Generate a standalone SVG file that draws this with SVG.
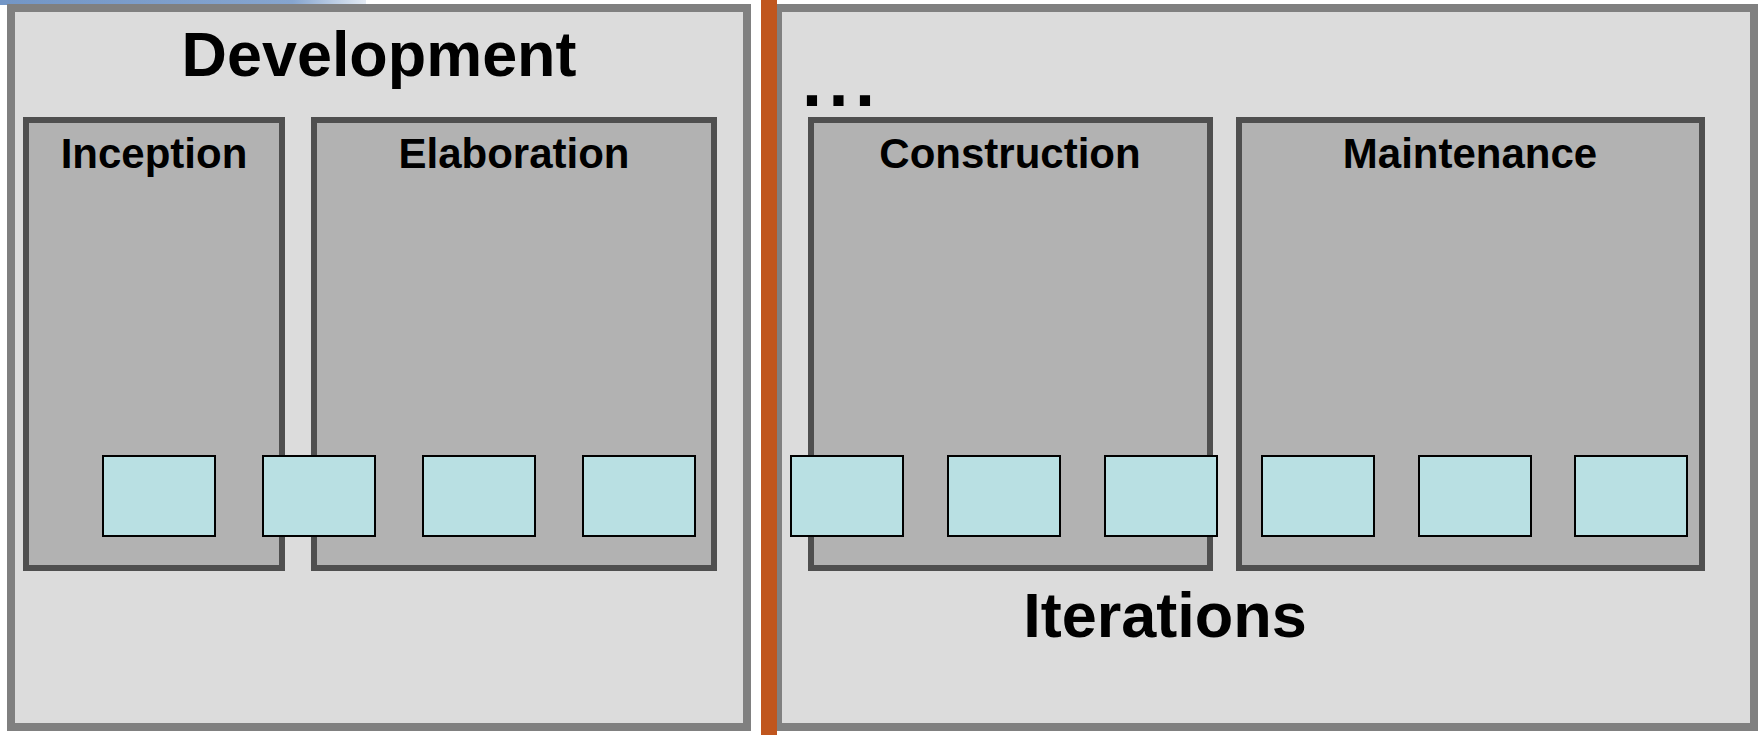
<svg xmlns="http://www.w3.org/2000/svg" width="1758" height="735" viewBox="0 0 1758 735">
  <defs>
    <linearGradient id="strip" x1="0" y1="0" x2="1" y2="0">
      <stop offset="0" stop-color="#7396c6"/>
      <stop offset="0.8" stop-color="#86a5cf"/>
      <stop offset="1" stop-color="#e4ebf4"/>
    </linearGradient>
    <style>
      .outer { fill: #dcdcdc; stroke: #808080; stroke-width: 8; }
      .phase { fill: #b2b2b2; stroke: #4f4f4f; stroke-width: 6; }
      .iter { fill: #b9e0e3; stroke: #000000; stroke-width: 2; }
      .title { font-family: "Liberation Sans", Arial, sans-serif; font-weight: bold; fill: #000000; text-anchor: middle; }
      .lbl { font-family: "Liberation Sans", Arial, sans-serif; font-weight: bold; font-size: 42px; fill: #000000; text-anchor: middle; }
    </style>
  </defs>
  <rect x="0" y="0" width="1758" height="735" fill="#ffffff"/>
  <rect x="0" y="0" width="366" height="5" fill="url(#strip)"/>

  <g id="development">
    <rect class="outer" x="11" y="8" width="736" height="719"/>
    <text class="title" x="379" y="76" font-size="63" textLength="395" lengthAdjust="spacingAndGlyphs">Development</text>
  </g>

  <g id="iterations-panel">
    <rect class="outer" x="778" y="8" width="976" height="719"/>
    <text class="title" x="1165" y="637" font-size="63">Iterations</text>
    <text x="802" y="106" font-family="Liberation Sans, Arial, sans-serif" font-weight="bold" font-size="72" letter-spacing="6.5" fill="#000000">...</text>
  </g>

  <rect id="divider" x="761" y="0" width="16" height="735" fill="#c0561e"/>

  <g id="inception">
    <rect class="phase" x="26" y="120" width="256" height="448"/>
    <text class="lbl" x="154" y="168">Inception</text>
  </g>
  <g id="elaboration">
    <rect class="phase" x="314" y="120" width="400" height="448"/>
    <text class="lbl" x="514" y="168">Elaboration</text>
  </g>
  <g id="construction">
    <rect class="phase" x="811" y="120" width="399" height="448"/>
    <text class="lbl" x="1010" y="168">Construction</text>
  </g>
  <g id="maintenance">
    <rect class="phase" x="1239" y="120" width="463" height="448"/>
    <text class="lbl" x="1470" y="168">Maintenance</text>
  </g>

  <g id="iteration-boxes">
    <rect id="it1" class="iter" x="103" y="456" width="112" height="80"/>
    <rect id="it2" class="iter" x="263" y="456" width="112" height="80"/>
    <rect id="it3" class="iter" x="423" y="456" width="112" height="80"/>
    <rect id="it4" class="iter" x="583" y="456" width="112" height="80"/>
    <rect id="it5" class="iter" x="791" y="456" width="112" height="80"/>
    <rect id="it6" class="iter" x="948" y="456" width="112" height="80"/>
    <rect id="it7" class="iter" x="1105" y="456" width="112" height="80"/>
    <rect id="it8" class="iter" x="1262" y="456" width="112" height="80"/>
    <rect id="it9" class="iter" x="1419" y="456" width="112" height="80"/>
    <rect id="it10" class="iter" x="1575" y="456" width="112" height="80"/>
  </g>

  <g id="connectors"/>
</svg>
